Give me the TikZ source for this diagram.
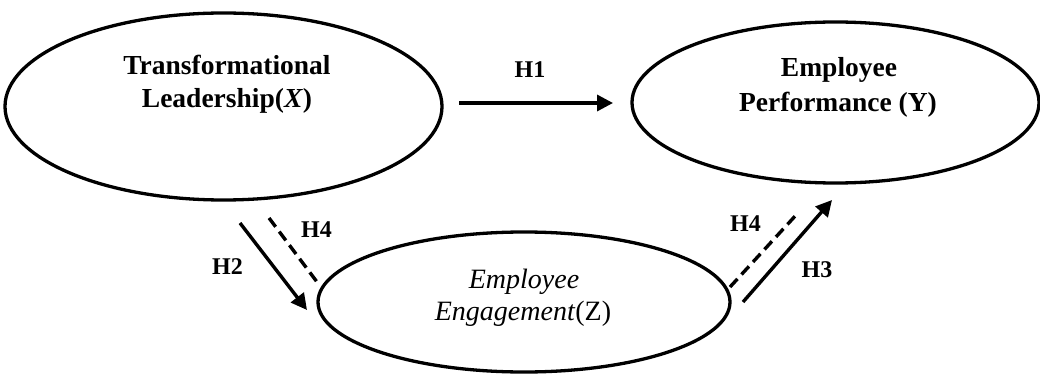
\documentclass[tikz,border=0pt]{standalone}
\usepackage{fontspec}
\setmainfont{Liberation Serif}
\usetikzlibrary{shapes.geometric,arrows.meta}
\begin{document}
\begin{tikzpicture}[x=1pt,y=-1pt,
  ell/.style={draw, ellipse, line width=3.3pt, inner sep=0pt},
  mainlbl/.style={font=\fontsize{27.5}{33}\selectfont\bfseries, anchor=base, inner sep=0pt},
  emain/.style={font=\fontsize{28}{33}\selectfont\itshape, anchor=base, inner sep=0pt},
  hlab/.style={font=\fontsize{24}{28}\selectfont\bfseries, anchor=base, inner sep=0pt},
  arr/.style={line width=3.4pt, -{Triangle[length=16pt,width=16pt]}},
  dsh/.style={line width=3.4pt, dash pattern=on 11pt off 6pt}]
\useasboundingbox (0,0) rectangle (1040,374);
\node[ell, minimum width=437pt, minimum height=187pt] (X) at (223.5,106.5) {};
\node[ell, minimum width=407pt, minimum height=161pt] (Y) at (835.5,102.5) {};
\node[ell, minimum width=412pt, minimum height=140pt] (Z) at (524,302) {};
\node[mainlbl] (xt1) at (227,75) {Transformational};
\node[mainlbl] (xt2) at (227,108) {Leadership(\textit{X})};
\node[mainlbl] (yt1) at (839,77) {Employee};
\node[mainlbl] (yt2) at (838,112) {Performance (Y)};
\node[emain] (zt1) at (524,288) {Employee};
\node[emain] (zt2) at (523,320) {Engagement\textup{(Z)}};
\node[hlab] (h1) at (530,78) {H1};
\node[hlab] (h2) at (227.5,274) {H2};
\node[hlab] (h4a) at (316.5,237) {H4};
\node[hlab] (h4b) at (745.5,231) {H4};
\node[hlab] (h3) at (817,277) {H3};
\coordinate (a1) at (459,103); \coordinate (b1) at (613,103);
\coordinate (a2) at (240,223); \coordinate (b2) at (307,310);
\coordinate (a4) at (269,218); \coordinate (b4) at (320,286);
\coordinate (c4) at (730,287); \coordinate (d4) at (797,214);
\coordinate (a3) at (743,302); \coordinate (b3) at (832,200);
\draw[arr] (a1) -- (b1);
\draw[arr] (a2) -- (b2);
\draw[dsh] (a4) -- (b4);
\draw[dsh] (c4) -- (d4);
\draw[arr] (a3) -- (b3);
\end{tikzpicture}
\end{document}
